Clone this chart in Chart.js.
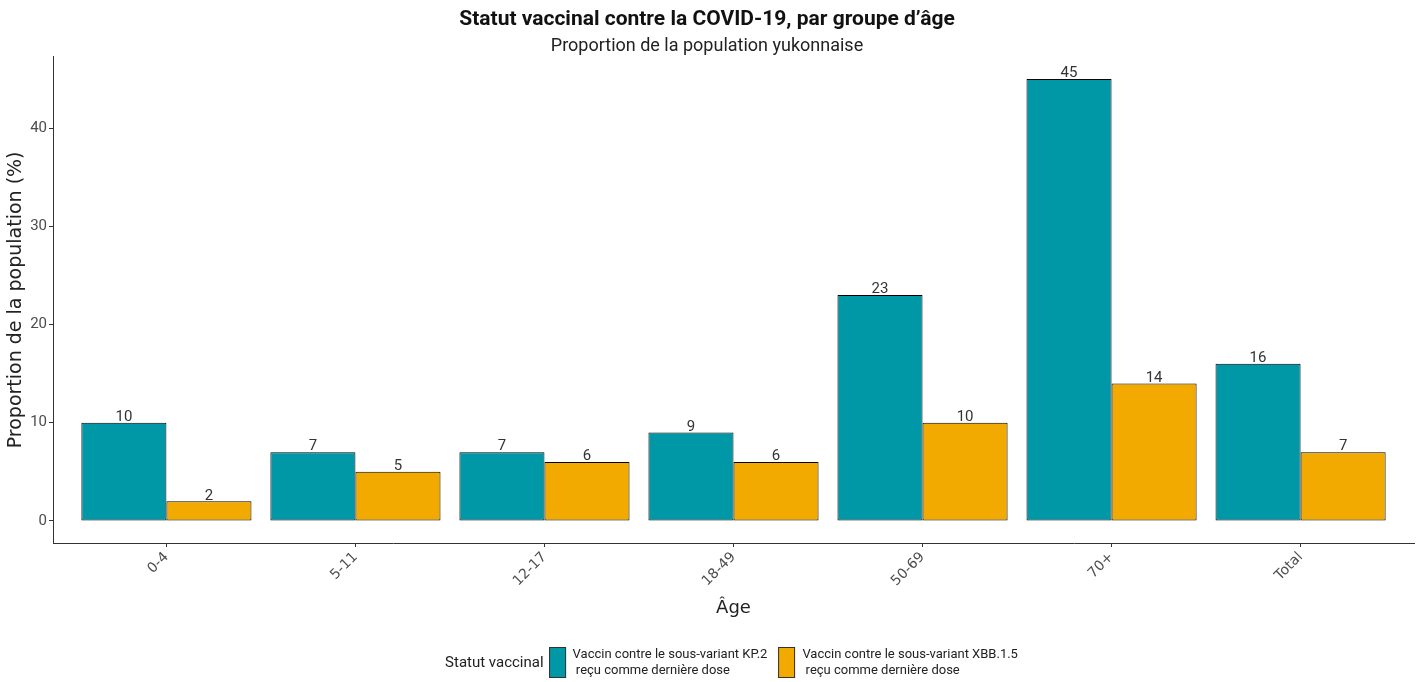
<!DOCTYPE html>
<html>
<head>
<meta charset="utf-8">
<script src="https://cdn.jsdelivr.net/npm/chart.js@4.4.1/dist/chart.umd.min.js"></script>
<style>
    body { margin: 0; background: #fff; }
    #wrap { position: relative; width: 1424px; height: 682px; }
    #legende {
        position: absolute; left: 737px; top: 646px; transform: translateX(-50%);
        display: flex; align-items: center;
        font-family: 'Roboto', sans-serif; color: #222;
    }
    #legende .titre { font-size: 15px; margin-right: 5px; }
    #legende .boite { width: 15px; height: 29px; border: 1px solid #333; margin-right: 7px; }
    #legende .texte { font-size: 13px; line-height: 16px; white-space: pre; margin-right: 11px; }
</style>
</head>
<body>
<div id="wrap">
    <canvas id="vaccin-age" width="1424" height="682"></canvas>
    <div id="legende"></div>
</div>
<script>
// donnees
var groupesAge = ['0-4', '5-11', '12-17', '18-49', '50-69', '70+', 'Total']
var valeursKP2 = [10, 7, 7, 9, 23, 45, 16]
var valeursXBB = [2, 5, 6, 6, 10, 14, 7]
var nomsSeries = ['Vaccin contre le sous-variant KP.2\n reçu comme dernière dose', 'Vaccin contre le sous-variant XBB.1.5\n reçu comme dernière dose']
var couleursSeries = ['#0097a7', '#f2a900']
var ticksY = [0, 10, 20, 30, 40]

var police = "'Roboto', sans-serif"

var ctx = document.getElementById('vaccin-age').getContext('2d')

// etiquettes des valeurs au-dessus des barres
var etiquettesBarres = {
    id: 'etiquettesBarres',
    afterDatasetsDraw: function(chart) {
        var c = chart.ctx
        c.save()
        c.font = '15px ' + police
        c.fillStyle = '#333'
        c.textAlign = 'center'
        c.textBaseline = 'bottom'
        chart.data.datasets.forEach(function(ds, i) {
            chart.getDatasetMeta(i).data.forEach(function(barre, j) {
                c.fillText(ds.data[j].y, barre.x, barre.y + 2)
            })
        })
        c.restore()
    }
}

function points(valeurs) {
    return valeurs.map(function(v, i) { return { x: i, y: v } })
}

var graphique = new Chart(ctx, {
    type: 'bar',
    data: {
        datasets: [{
            label: nomsSeries[0],
            data: points(valeursKP2),
            backgroundColor: couleursSeries[0]
        }, {
            label: nomsSeries[1],
            data: points(valeursXBB),
            backgroundColor: couleursSeries[1]
        }]
    },
    options: {
        responsive: false,
        animation: false,
        categoryPercentage: 0.9,
        barPercentage: 1.0,
        borderColor: '#000',
        borderWidth: 1,
        borderSkipped: false,
        layout: { padding: { left: 0, right: 10, top: 0, bottom: 59 } },
        scales: {
            x: {
                type: 'linear',
                min: -0.6,
                max: 6.6,
                offset: false,
                afterBuildTicks: function(axis) {
                    axis.ticks = groupesAge.map(function(g, i) { return { value: i } })
                },
                afterFit: function(axis) { axis.height = 80 },
                grid: { offset: false, drawOnChartArea: false, drawTicks: true, tickLength: 4, color: '#333' },
                border: { color: '#333', width: 1 },
                ticks: {
                    autoSkip: false,
                    maxRotation: 45,
                    minRotation: 45,
                    padding: 2,
                    color: '#4d4d4d',
                    font: { family: "'DejaVu Sans', sans-serif", size: 14 },
                    callback: function(v) { return groupesAge[v] }
                },
                title: {
                    display: true,
                    text: 'Âge',
                    color: '#222',
                    padding: { top: 4, bottom: 4 },
                    font: { family: "'DejaVu Sans', sans-serif", size: 18 }
                }
            },
            y: {
                min: -2.25,
                max: 47.25,
                afterBuildTicks: function(axis) {
                    axis.ticks = ticksY.map(function(t) { return { value: t } })
                },
                afterFit: function(axis) { axis.width = 53 },
                grid: { drawOnChartArea: false, drawTicks: true, tickLength: 4, color: '#333' },
                border: { color: '#333', width: 1 },
                ticks: {
                    padding: 2,
                    color: '#4d4d4d',
                    font: { family: police, size: 15 }
                },
                title: {
                    display: true,
                    text: 'Proportion de la population (%)',
                    color: '#222',
                    padding: { top: 5, bottom: 0 },
                    font: { family: "'DejaVu Sans', sans-serif", size: 19 }
                }
            }
        },
        plugins: {
            legend: { display: false },
            tooltip: { enabled: false },
            title: {
                display: true,
                text: 'Statut vaccinal contre la COVID-19, par groupe d’âge',
                color: '#111',
                padding: { top: 7, bottom: 0 },
                font: { family: police, size: 21, weight: 'bold' }
            },
            subtitle: {
                display: true,
                text: 'Proportion de la population yukonnaise',
                color: '#222',
                padding: { top: 3, bottom: 0 },
                font: { family: police, size: 18 }
            }
        }
    },
    plugins: [etiquettesBarres]
})

// legende en bas
var legende = document.getElementById('legende')
var titreLegende = document.createElement('span')
titreLegende.className = 'titre'
titreLegende.textContent = 'Statut vaccinal'
legende.appendChild(titreLegende)
graphique.data.datasets.forEach(function(ds) {
    var boite = document.createElement('span')
    boite.className = 'boite'
    boite.style.backgroundColor = ds.backgroundColor
    legende.appendChild(boite)
    var texte = document.createElement('span')
    texte.className = 'texte'
    texte.textContent = ds.label
    legende.appendChild(texte)
})
</script>
</body>
</html>
